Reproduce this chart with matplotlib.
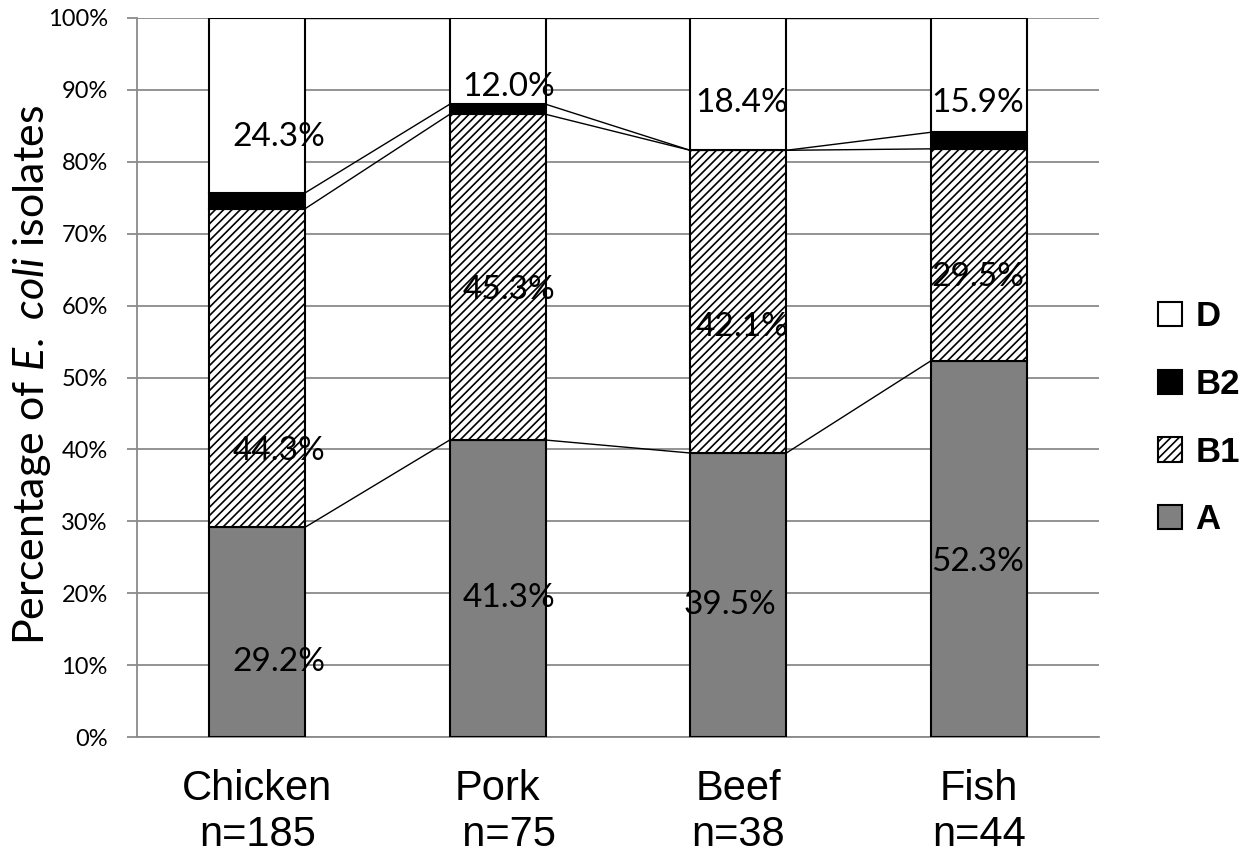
import numpy as np
import matplotlib
matplotlib.use('Agg')
import matplotlib.pyplot as plt
from matplotlib.patches import Patch

# phylogroup shares (%) per meat type
categories = ['Chicken', 'Pork', 'Beef', 'Fish']
sample_sizes = [185, 75, 38, 44]
group_a = [29.2, 41.3, 39.5, 52.3]
group_b1 = [44.3, 45.3, 42.1, 29.5]
group_b2 = [2.2, 1.4, 0.0, 2.3]
group_d = [24.3, 12.0, 18.4, 15.9]

# where each value label sits: (x offset from bar centre, y in %)
label_pos_a = [(0.09, 10.4), (0.045, 19.3), (-0.035, 18.4), (-0.005, 24.3)]
label_pos_b1 = [(0.09, 39.8), (0.045, 62.2), (0.015, 57.0), (-0.005, 64.0)]
label_pos_d = [(0.09, 83.4), (0.045, 90.4), (0.015, 88.2), (-0.005, 88.2)]

calibri_like = 'Lato'
arial_like = 'Liberation Sans'
grid_grey = '#8a8a8a'

plt.rcParams['hatch.linewidth'] = 1.2
plt.rcParams['mathtext.fontset'] = 'custom'
plt.rcParams['mathtext.rm'] = calibri_like
plt.rcParams['mathtext.it'] = calibri_like + ':italic'

fig = plt.figure(figsize=(12.49, 8.57), dpi=100)
ax = fig.add_axes([0.1097, 0.140, 0.7702, 0.839])

x = np.arange(len(categories))
width = 0.4
a = np.array(group_a)
b1 = np.array(group_b1)
b2 = np.array(group_b2)
d = np.array(group_d)

edge = dict(edgecolor='black', linewidth=1.5, zorder=3)
ax.bar(x, a, width, color='#808080', **edge)
ax.bar(x, b1, width, bottom=a, color='white', hatch='////', **edge)
ax.bar(x, b2, width, bottom=a + b1, color='black', **edge)
ax.bar(x, d, width, bottom=a + b1 + b2, color='white', **edge)

# series lines joining the segment tops of neighbouring bars
tops = [a, a + b1, a + b1 + b2, a + b1 + b2 + d]
for level in tops:
    for i in range(len(x) - 1):
        ax.plot([x[i] + width / 2, x[i + 1] - width / 2], [level[i], level[i + 1]],
                color='black', linewidth=1.0, zorder=2.5, solid_capstyle='butt')

# value labels
for vals, pos in [(group_a, label_pos_a), (group_b1, label_pos_b1), (group_d, label_pos_d)]:
    for i, (v, (dx, yy)) in enumerate(zip(vals, pos)):
        ax.text(x[i] + dx, yy, f'{v:.1f}%', ha='center', va='center',
                fontsize=24, family=calibri_like, zorder=4)

ax.set_xlim(-0.5, len(categories) - 0.5)
ax.set_ylim(0, 100)
ax.set_yticks(np.arange(0, 101, 10))
ax.set_yticklabels([f'{t}%' for t in range(0, 101, 10)], family=calibri_like, fontsize=17)
ax.yaxis.grid(True, color=grid_grey, linewidth=1.3, zorder=0)
ax.set_axisbelow(True)
ax.tick_params(axis='y', direction='out', length=7, width=1.3, color=grid_grey, pad=14)

xlabels = []
for c, n in zip(categories, sample_sizes):
    pad = '  ' if c == 'Pork' else ''
    xlabels.append(f'{c}\n{pad}n={n}')
ax.set_xticks(x)
ax.set_xticklabels(xlabels, family=arial_like, fontsize=30, linespacing=1.2)
ax.tick_params(axis='x', length=0, pad=23)

for side in ['top', 'right']:
    ax.spines[side].set_visible(False)
for side in ['left', 'bottom']:
    ax.spines[side].set_color(grid_grey)
    ax.spines[side].set_linewidth(1.3)

fig.text(32 / 1249, 1 - 375 / 857, r'Percentage of $\mathit{E.}$ $\mathit{coli}$ isolates',
         family=calibri_like, fontsize=31, rotation=90, ha='center', va='center')

handles = [
    Patch(facecolor='white', edgecolor='black', linewidth=1.5, label='D'),
    Patch(facecolor='black', edgecolor='black', linewidth=1.5, label='B2'),
    Patch(facecolor='white', edgecolor='black', linewidth=1.5, hatch='////', label='B1'),
    Patch(facecolor='#808080', edgecolor='black', linewidth=1.5, label='A'),
]
fig.legend(handles=handles, loc='center left', bbox_to_anchor=(1158 / 1249, 0.512),
           frameon=False, borderpad=0, borderaxespad=0, handlelength=0.7,
           handleheight=0.7, handletextpad=0.37, labelspacing=1.0,
           prop={'family': arial_like, 'weight': 'bold', 'size': 25})

fig.savefig('out.png', dpi=100)
